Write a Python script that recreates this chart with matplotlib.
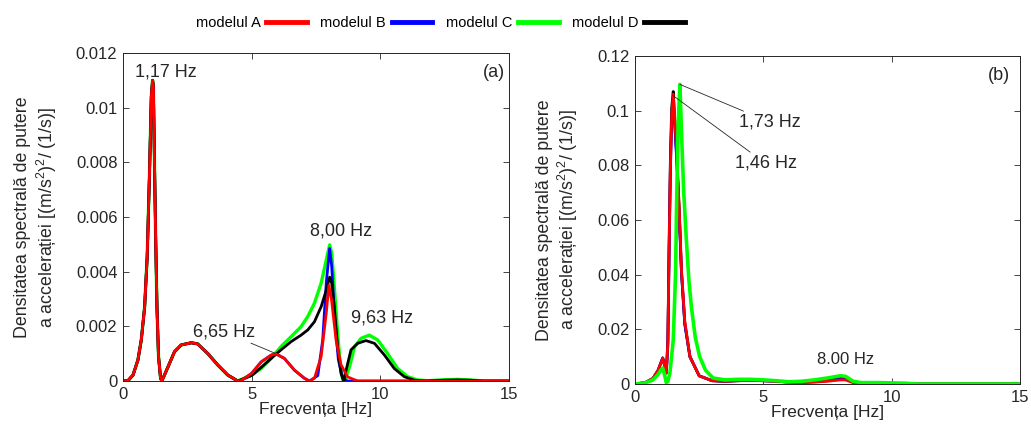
import numpy as np
import matplotlib
matplotlib.use('Agg')
from matplotlib import pyplot as plt

plt.rcParams['font.family'] = ['Liberation Sans', 'DejaVu Sans']
plt.rcParams['mathtext.fontset'] = 'custom'
plt.rcParams['mathtext.rm'] = 'Liberation Sans'

# ---- panel (a): PSD values in units of 1e-3 (m/s^2)^2/(1/s)
f_common = [0, 0.2, 0.39, 0.58, 0.71, 0.84, 0.94, 1.03, 1.1, 1.15, 1.18, 1.23, 1.27, 1.32, 1.38,
            1.46, 1.51, 1.75, 2.0, 2.26, 2.65, 2.9, 3.3, 3.69, 4.07, 4.46]
a_common = [0, 0.02, 0.22, 0.77, 1.5, 2.7, 4.55, 7.6, 10.4, 11.0, 10.8, 7.6, 5.2, 2.7, 0.9,
            0.1, 0, 0.52, 1.07, 1.32, 1.40, 1.36, 1.0, 0.58, 0.22, 0]

f_a_red = [4.6, 5.0, 5.37, 5.76, 5.95, 6.27, 6.66, 7.05, 7.25, 7.44, 7.7, 7.9, 8.0, 8.1, 8.28,
           8.47, 8.73, 9.12, 11.0, 15.0]
a_red = [0.02, 0.28, 0.7, 0.95, 0.99, 0.83, 0.4, 0.1, 0, 0.1, 0.9, 2.5, 3.5, 3.0, 1.5,
         0.6, 0.15, 0, 0, 0]

f_a_blue = [4.6, 5.0, 5.37, 5.76, 5.95, 6.27, 6.66, 7.05, 7.25, 7.57, 7.76, 7.9, 8.03, 8.11,
            8.24, 8.37, 8.54, 8.73, 11.0, 15.0]
a_blue = [0.02, 0.28, 0.7, 0.95, 0.99, 0.83, 0.4, 0.1, 0, 0.2, 1.5, 3.6, 4.85, 4.2,
          2.1, 0.77, 0.1, 0, 0, 0]

f_a_green = [5.0, 5.37, 5.76, 6.14, 6.53, 6.92, 7.18, 7.44, 7.7, 7.9, 8.03, 8.11, 8.21, 8.34,
             8.45, 8.54, 8.63, 8.8, 9.0, 9.25, 9.57, 9.9, 10.28, 10.67, 11.06, 11.45, 11.84,
             12.5, 13.0, 13.5, 14.0, 15.0]
a_green = [0.22, 0.46, 0.83, 1.26, 1.62, 1.99, 2.36, 2.85, 3.58, 4.43, 4.98, 4.68, 3.46, 1.75,
           0.52, 0.04, 0.05, 0.52, 1.26, 1.56, 1.68, 1.5, 1.01, 0.46, 0.16, 0.04, 0.01,
           0.05, 0.06, 0.04, 0, 0]

f_a_black = [5.0, 5.37, 5.76, 6.14, 6.53, 6.92, 7.18, 7.44, 7.7, 7.9, 8.03, 8.11, 8.21, 8.34,
             8.47, 8.58, 8.67, 8.86, 9.12, 9.44, 9.77, 10.16, 10.54, 10.93, 11.32, 11.7,
             12.5, 13.0, 13.5, 14.0, 15.0]
a_black = [0.2, 0.5, 0.83, 1.14, 1.44, 1.68, 1.87, 2.17, 2.72, 3.33, 3.8, 3.58, 2.72, 1.26,
           0.28, 0, 0.4, 1.14, 1.38, 1.48, 1.38, 0.95, 0.46, 0.16, 0.03, 0,
           0.03, 0.04, 0.03, 0, 0]

# ---- panel (b): PSD values in units of 1e-2
f_b_red = [0, 0.4, 0.7, 0.9, 1.0, 1.08, 1.15, 1.22, 1.28, 1.33, 1.38, 1.43, 1.49, 1.55, 1.62,
           1.72, 1.81, 1.94, 2.14, 2.5, 3.0, 3.5, 4.0, 4.5, 5.0, 5.5, 6.0, 6.5, 7.0, 7.5,
           8.0, 8.2, 8.5, 9.0, 10.0, 11.0, 15.0]
b_red = [0, 0.05, 0.2, 0.5, 0.75, 0.95, 0.7, 0.4, 1.5, 5.0, 8.0, 9.8, 10.6, 9.7, 8.6,
         6.5, 4.2, 2.3, 1.0, 0.3, 0.12, 0.1, 0.12, 0.13, 0.12, 0.1, 0.07, 0.05, 0.07, 0.1,
         0.15, 0.15, 0.05, 0.02, 0.02, 0, 0]

f_b_blue = f_b_red
b_blue = [0, 0.05, 0.2, 0.5, 0.75, 0.95, 0.7, 0.4, 1.4, 4.8, 7.8, 9.6, 10.4, 9.5, 8.3,
          6.3, 4.1, 2.2, 1.0, 0.3, 0.12, 0.1, 0.12, 0.13, 0.12, 0.1, 0.07, 0.05, 0.08, 0.12,
          0.17, 0.17, 0.06, 0.02, 0.02, 0, 0]

f_b_black = f_b_red
b_black = [0, 0.05, 0.2, 0.5, 0.75, 0.95, 0.7, 0.4, 1.6, 5.2, 8.3, 10.1, 10.7, 9.6, 8.4,
           6.4, 4.1, 2.2, 1.0, 0.3, 0.12, 0.1, 0.12, 0.13, 0.12, 0.1, 0.07, 0.06, 0.1, 0.15,
           0.22, 0.22, 0.07, 0.02, 0.02, 0, 0]

f_b_green = [0, 0.4, 0.7, 0.9, 1.0, 1.08, 1.15, 1.22, 1.28, 1.36, 1.49, 1.58, 1.62, 1.68,
             1.75, 1.82, 1.9, 2.0, 2.1, 2.2, 2.35, 2.52, 2.75, 3.04, 3.5, 4.0, 4.5, 5.0,
             5.5, 6.0, 6.5, 7.0, 7.5, 8.0, 8.2, 8.5, 8.8, 9.5, 10.5, 11.0, 15.0]
b_green = [0, 0.04, 0.15, 0.35, 0.5, 0.58, 0.35, 0.05, 0.1, 0.4, 1.6, 4.0, 6.5, 9.5,
           10.96, 9.0, 7.0, 5.3, 3.8, 2.8, 1.7, 1.0, 0.5, 0.22, 0.15, 0.17, 0.17, 0.15,
           0.12, 0.08, 0.1, 0.15, 0.22, 0.3, 0.28, 0.1, 0.05, 0.05, 0.03, 0, 0]

colors = {'A': '#ff0000', 'B': '#0000ff', 'C': '#00ff00', 'D': '#000000'}
ylabel = 'Densitatea spectrală de putere\na accelerației [(m/s$^2$)$^2$/ (1/s)]'


def style_axes(ax, ylim, yticks, yticklabels):
    ax.set_xlim(0, 15)
    ax.set_ylim(*ylim)
    ax.set_xticks([0, 5, 10, 15])
    ax.set_yticks(yticks)
    ax.set_yticklabels(yticklabels)
    ax.tick_params(direction='in', top=True, right=True, labelsize=12, length=4,
                   width=0.6, colors='#262626', pad=4)
    for s in ax.spines.values():
        s.set_color('#262626')
        s.set_linewidth(0.7)
    ax.set_xlabel('Frecvența [Hz]', fontsize=12.5, color='#262626', labelpad=0)
    ax.set_ylabel(ylabel, fontsize=12.8, color='#262626', labelpad=12)


fig = plt.figure(figsize=(10.31, 4.33), dpi=100)
ax1 = fig.add_axes([0.1193, 0.120, 0.3744, 0.7575])
ax2 = fig.add_axes([0.6159, 0.1132, 0.3734, 0.7575])

sc = 1e-3
ax1.plot(np.r_[f_common, f_a_green], np.r_[a_common, a_green] * sc, color=colors['C'], lw=2.4)
ax1.plot(np.r_[f_common, f_a_blue], np.r_[a_common, a_blue] * sc, color=colors['B'], lw=2.0)
ax1.plot(np.r_[f_common, f_a_black], np.r_[a_common, a_black] * sc, color=colors['D'], lw=2.0)
ax1.plot(np.r_[f_common, f_a_red], np.r_[a_common, a_red] * sc, color=colors['A'], lw=2.0)

style_axes(ax1, (0, 0.012), np.arange(0, 0.0121, 0.002),
           ['0', '0.002', '0.004', '0.006', '0.008', '0.01', '0.012'])
ax1.text(1.67, 0.0113, '1,17 Hz', fontsize=13, ha='center', va='center', color='#262626')
ax1.text(8.47, 0.0055, '8,00 Hz', fontsize=13, ha='center', va='center', color='#262626')
ax1.text(10.08, 0.0023, '9,63 Hz', fontsize=13, ha='center', va='center', color='#262626')
ax1.annotate('6,65 Hz', xy=(5.9, 0.00102), xytext=(5.13, 0.0018), fontsize=13, ha='right',
             va='center', color='#262626',
             arrowprops=dict(arrowstyle='-', lw=0.6, color='#262626', shrinkA=0, shrinkB=0))
ax1.text(14.4, 0.0113, '(a)', fontsize=13, ha='center', va='center', color='#262626')

sc = 1e-2
l_d, = ax2.plot(f_b_black, np.array(b_black) * sc, color=colors['D'], lw=2.0)
l_b, = ax2.plot(f_b_blue, np.array(b_blue) * sc, color=colors['B'], lw=2.0)
l_a, = ax2.plot(f_b_red, np.array(b_red) * sc, color=colors['A'], lw=2.0)
l_c, = ax2.plot(f_b_green, np.array(b_green) * sc, color=colors['C'], lw=2.6)

style_axes(ax2, (0, 0.12), np.arange(0, 0.121, 0.02),
           ['0', '0.02', '0.04', '0.06', '0.08', '0.1', '0.12'])
ax2.annotate('1,73 Hz', xy=(1.75, 0.1096), xytext=(4.07, 0.0957), fontsize=13, ha='left',
             va='center', color='#262626',
             arrowprops=dict(arrowstyle='-', lw=0.6, color='#262626', shrinkA=0, shrinkB=0))
ax2.annotate('1,46 Hz', xy=(1.47, 0.1056), xytext=(3.88, 0.0807), fontsize=13, ha='left',
             va='center', color='#262626',
             arrowprops=dict(arrowstyle='-', lw=0.6, color='#262626', shrinkA=0, shrinkB=0))
ax2.text(8.22, 0.0088, '8.00 Hz', fontsize=12, ha='center', va='center', color='#262626')
ax2.text(14.2, 0.113, '(b)', fontsize=13, ha='center', va='center', color='#262626')

fig.legend([l_a, l_b, l_c, l_d], ['modelul A', 'modelul B', 'modelul C', 'modelul D'],
           loc='center', bbox_to_anchor=(0.427, 0.947), ncol=4, frameon=False,
           markerfirst=False, handlelength=2.8, columnspacing=0.9, handletextpad=0.4,
           fontsize=10.5)
for h in fig.legends[0].get_lines():
    h.set_linewidth(3.5)

fig.savefig('out.png', dpi=100)
